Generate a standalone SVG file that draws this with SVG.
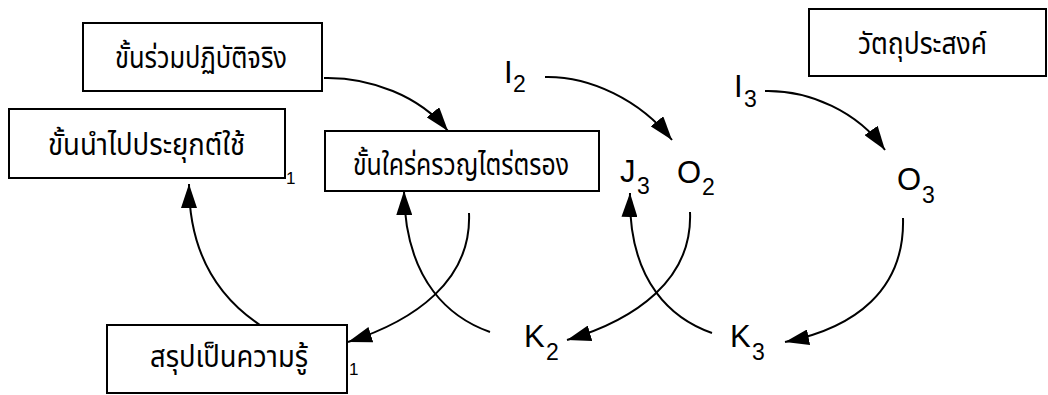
<svg xmlns="http://www.w3.org/2000/svg" width="1048" height="395" viewBox="0 0 1048 395">
<style>
.box{fill:#fff;stroke:#000;stroke-width:2}
.th{font-family:"Noto Sans Thai","Noto Serif Thai","Tlwg Typo",Loma,"Noto Sans",sans-serif;font-size:30px;fill:#000;text-anchor:middle}
.lb{font-family:"Liberation Sans",Arial,sans-serif;font-size:31px;fill:#000}
.sb{font-family:"Liberation Sans",Arial,sans-serif;font-size:23px;fill:#000}
.s1{font-family:"Liberation Sans",Arial,sans-serif;font-size:17px;fill:#000}
.cn{fill:none;stroke:#000;stroke-width:2;marker-end:url(#ah)}
</style>
<defs>
<marker id="ah" viewBox="0 0 24 16" refX="24" refY="8" markerWidth="24" markerHeight="16" markerUnits="userSpaceOnUse" orient="auto">
<path d="M0,0 L24,8 L0,16 Z" fill="#000"/>
</marker>
</defs>
<rect width="1048" height="395" fill="#fff"/>
<g id="n1"><rect class="box" x="83" y="23" width="239" height="68"/><text class="th" x="201" y="68" textLength="172" lengthAdjust="spacingAndGlyphs">ขั้นร่วมปฏิบัติจริง</text></g>
<g id="n2"><rect class="box" x="9" y="109" width="276" height="69"/><text class="th" x="146.5" y="155" textLength="197" lengthAdjust="spacingAndGlyphs">ขั้นนำไปประยุกต์ใช้</text><text class="s1" x="286" y="184">1</text></g>
<g id="n3"><rect class="box" x="325" y="131" width="274" height="60"/><text class="th" x="461" y="175" textLength="216" lengthAdjust="spacingAndGlyphs">ขั้นใคร่ครวญไตร่ตรอง</text></g>
<g id="n4"><rect class="box" x="809" y="9" width="237" height="67"/><text class="th" x="922.5" y="54" textLength="129" lengthAdjust="spacingAndGlyphs">วัตถุประสงค์</text></g>
<g id="n5"><rect class="box" x="107" y="325" width="240" height="68"/><text class="th" x="229" y="367" textLength="158" lengthAdjust="spacingAndGlyphs">สรุปเป็นความรู้</text><text class="s1" x="349" y="375">1</text></g>
<g id="I2"><text class="lb" x="504" y="83">I</text><text class="sb" x="513" y="92">2</text></g>
<g id="I3"><text class="lb" x="734" y="97">I</text><text class="sb" x="744" y="107">3</text></g>
<g id="J3"><text class="lb" x="620" y="182">J</text><text class="sb" x="637" y="194">3</text></g>
<g id="O2"><text class="lb" x="677" y="183">O</text><text class="sb" x="702" y="195">2</text></g>
<g id="O3"><text class="lb" x="897" y="190">O</text><text class="sb" x="922" y="203">3</text></g>
<g id="K2"><text class="lb" x="524" y="347">K</text><text class="sb" x="546" y="360">2</text></g>
<g id="K3"><text class="lb" x="730" y="347">K</text><text class="sb" x="752" y="360">3</text></g>
<g id="connectors">
<path class="cn" d="M324,78 C370,77 420,96 448,131"/>
<path class="cn" d="M545,77 C590,76 640,100 672,140"/>
<path class="cn" d="M765,91 C810,90 858,112 885,150"/>
<path class="cn" d="M690,212 C693,280 635,320 567,340"/>
<path class="cn" d="M712,333 C675,320 628,285 630,193"/>
<path class="cn" d="M903,218 C905,290 855,328 785,342"/>
<path class="cn" d="M469,213 C472,281 414,321 348,342"/>
<path class="cn" d="M490,332 C453,319 405,284 404,191"/>
<path class="cn" d="M260,325 C215,295 189,250 189,184"/>
</g>
</svg>
